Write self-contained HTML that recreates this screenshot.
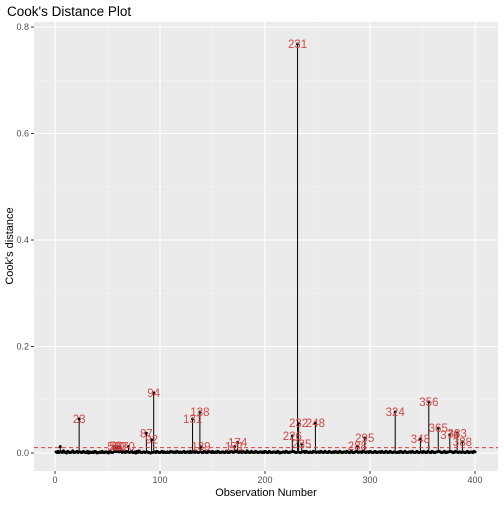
<!DOCTYPE html>
<html><head><meta charset="utf-8"><style>
body{margin:0;background:#fff;font-family:"Liberation Sans",sans-serif}
svg text{font-family:"Liberation Sans",sans-serif}
</style></head><body>
<svg id="chart" width="504" height="504" xmlns="http://www.w3.org/2000/svg">
<text x="7" y="16" font-size="13.5" fill="#000">Cook's Distance Plot</text>
<rect x="34" y="22" width="464" height="449" fill="#ebebeb"/>
<g id="grid"></g><g id="marks"></g><g id="labels"></g><g id="axes"></g>
<text x="266" y="496" font-size="11" text-anchor="middle">Observation Number</text>
<text transform="translate(13,246) rotate(-90)" font-size="11" text-anchor="middle">Cook's distance</text>
</svg>
<script>
const xTicks=[0,100,200,300,400];
const yTicks=[0,0.2,0.4,0.6,0.8];
const yTickLabels=["0.0","0.2","0.4","0.6","0.8"];
const threshold=0.01;
// baseline cook's distances in thousandths, obs 1..400
const baseDigits="2131221421032112411231021132113021121320112131122103211241312031221321123112031421122132110213213211231211211322121321211231122131121321142113211322131121321122113211232114211221321142113211321122121321132112211320112213211221321132112231321121132112213211321132112132113211221321132112311221321122132112311221321132113211231121321132112213211231122132113211321122132112311221321132112213211231122132112";
const labelObs=[5,23,56,58,60,62,70,87,92,94,131,138,139,171,174,226,231,232,235,248,288,295,324,348,356,365,376,383,388];
const labelVals=[0.012,0.064,0.012,0.013,0.012,0.012,0.012,0.037,0.025,0.113,0.064,0.077,0.012,0.012,0.02,0.032,0.768,0.056,0.017,0.056,0.013,0.028,0.077,0.026,0.096,0.047,0.034,0.037,0.021];
const labelText=["","23","56","58","60","62","70","87","92","94","131","138","139","171","174","226","231","232","235","248","288","295","324","348","356","365","376","383","388"];
const NS="http://www.w3.org/2000/svg";
const X=v=>55+v*1.05, Y=v=>453-v*532.5;
function mk(t,a,p){const e=document.createElementNS(NS,t);for(const k in a)e.setAttribute(k,a[k]);p.appendChild(e);return e;}
const grid=document.getElementById('grid'),marks=document.getElementById('marks'),labels=document.getElementById('labels'),axes=document.getElementById('axes');
for(let i=0;i<yTicks.length;i++){
 const l=mk('line',{x1:34,x2:498,y1:Y(yTicks[i]),y2:Y(yTicks[i]),stroke:'#fff','stroke-width':1.1},grid);
 
 if(i<yTicks.length-1){const m=mk('line',{x1:34,x2:498,y1:Y(yTicks[i]+0.1),y2:Y(yTicks[i]+0.1),stroke:'#f5f5f5','stroke-width':0.5},grid);
 }
 const t=mk('text',{x:29,y:Y(yTicks[i])+3,'font-size':9,fill:'#4d4d4d','text-anchor':'end'},axes);t.textContent=yTickLabels[i];
 
 mk('line',{x1:31,x2:34,y1:Y(yTicks[i]),y2:Y(yTicks[i]),stroke:'#333'},axes);
}
for(let i=0;i<xTicks.length;i++){
 const l=mk('line',{x1:X(xTicks[i]),x2:X(xTicks[i]),y1:22,y2:471,stroke:'#fff','stroke-width':1.1},grid);
 
 const mv=xTicks[i]+50;if(X(mv)<498){const m=mk('line',{x1:X(mv),x2:X(mv),y1:22,y2:471,stroke:'#f5f5f5','stroke-width':0.5},grid);
 }
 const t=mk('text',{x:X(xTicks[i]),y:483,'font-size':9,fill:'#4d4d4d','text-anchor':'middle'},axes);t.textContent=xTicks[i];
 
 mk('line',{x1:X(xTicks[i]),x2:X(xTicks[i]),y1:471,y2:474,stroke:'#333'},axes);
}
const vals=[];for(let i=0;i<400;i++)vals.push(Number(baseDigits[i%baseDigits.length])/1000);
labelObs.forEach((o,i)=>{vals[o-1]=labelVals[i];});
for(let i=0;i<400;i++){
 const o=i+1,x=X(o),y=Y(vals[i]);
 const s=mk('line',{x1:x,x2:x,y1:Y(0),y2:y,stroke:'#000','stroke-width':1},marks);
 
 const c=mk('circle',{cx:x,cy:y,r:1.5,fill:'#000'},marks);
 
}
const th=mk('line',{x1:34,x2:498,y1:Y(threshold),y2:Y(threshold),stroke:'#e03c3c','stroke-width':1,'stroke-dasharray':'4,3'},marks);

labelObs.forEach((o,i)=>{if(!labelText[i])return;
 const t=mk('text',{x:X(o),y:Y(labelVals[i])+4,'font-size':11.5,fill:'#d24848','text-anchor':'middle'},labels);t.textContent=labelText[i];
 });
</script>
</body></html>
